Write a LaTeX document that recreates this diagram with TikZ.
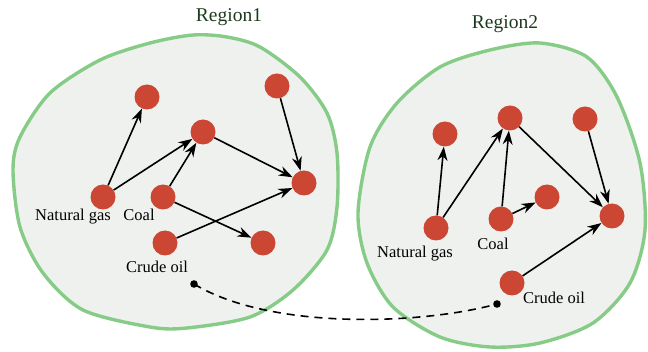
\documentclass[tikz,border=0pt]{standalone}
\usepackage{fontspec}
\setmainfont{Liberation Serif}
\usetikzlibrary{arrows.meta}
\definecolor{regfill}{HTML}{EFF1EE}
\definecolor{regline}{HTML}{86CC86}
\definecolor{fuel}{HTML}{CC4634}
\definecolor{title}{HTML}{1E3A1E}
\tikzset{
  fuelnode/.style={circle,fill=fuel,minimum size=25pt,inner sep=0pt},
  flow/.style={-{Stealth[length=14pt,width=10pt]},line width=1.6pt},
  region/.style={draw=regline,fill=regfill,line width=3.4pt},
  lbl/.style={font=\fontsize{16.5}{18}\selectfont,inner sep=0pt},
  ttl/.style={font=\fontsize{19.5}{22}\selectfont,text=title,inner sep=0pt}
}
\begin{document}
\begin{tikzpicture}[x=1pt,y=-1pt]
\useasboundingbox (0,0) rectangle (648,352);
% the two regions
\draw[region] plot[smooth cycle,tension=0.5] coordinates {(193,35) (150,43) (100,60) (50,93) (20,137) (13,170) (20,227) (43,273) (83,310) (150,327) (187,328) (250,317) (293,290) (327,250) (337,207) (337,153) (327,113) (300,77) (260,47) (227,37)};
\draw[region] plot[smooth cycle,tension=0.5] coordinates {(540,43) (490,50) (440,67) (397,103) (370,147) (358,213) (367,263) (393,307) (440,337) (490,347) (540,343) (593,323) (630,283) (645,230) (640,163) (617,97) (587,57)};
\node[ttl] (t1) at (229,17) {Region1};
\node[ttl] (t2) at (505,24) {Region2};
% region 1
\node[fuelnode] (a1) at (147,97) {};
\node[fuelnode] (b1) at (203,132) {};
\node[fuelnode] (c1) at (277,86) {};
\node[fuelnode] (d1) at (304,183) {};
\node[fuelnode] (ng1) at (103,197) {};
\node[fuelnode] (co1) at (163,197) {};
\node[fuelnode] (cr1) at (165,243) {};
\node[fuelnode] (e1) at (263,243) {};
\node[lbl] at (73,217) {Natural gas};
\node[lbl] at (139,215) {Coal};
\node[lbl] at (157,267) {Crude oil};
\draw[flow] (ng1) -- (a1);
\draw[flow] (ng1) -- (b1);
\draw[flow] (co1) -- (b1);
\draw[flow] (b1) -- (d1);
\draw[flow] (c1) -- (d1);
\draw[flow] (co1) -- (e1);
\draw[flow] (cr1) -- (d1);
% region 2
\node[fuelnode] (a2) at (445,134) {};
\node[fuelnode] (b2) at (510,118) {};
\node[fuelnode] (c2) at (585,119) {};
\node[fuelnode] (d2) at (612,216) {};
\node[fuelnode] (ng2) at (436,228) {};
\node[fuelnode] (co2) at (501,219) {};
\node[fuelnode] (e2) at (547,197) {};
\node[fuelnode] (cr2) at (512,283) {};
\node[lbl] at (415,254) {Natural gas};
\node[lbl] at (493,244) {Coal};
\node[lbl] at (554,298) {Crude oil};
\draw[flow] (ng2) -- (a2);
\draw[flow] (ng2) -- (b2);
\draw[flow] (co2) -- (b2);
\draw[flow] (co2) -- (e2);
\draw[flow] (b2) -- (d2);
\draw[flow] (c2) -- (d2);
\draw[flow] (cr2) -- (d2);
% link between the regions
\coordinate (p1) at (194,284);
\coordinate (p2) at (497,304);
\fill (p1) circle (3.8pt);
\fill (p2) circle (3.8pt);
\draw[dashed,dash pattern=on 8pt off 6pt,line width=1.6pt] (p1) .. controls (270,330) and (420,325) .. (p2);
\end{tikzpicture}
\end{document}
